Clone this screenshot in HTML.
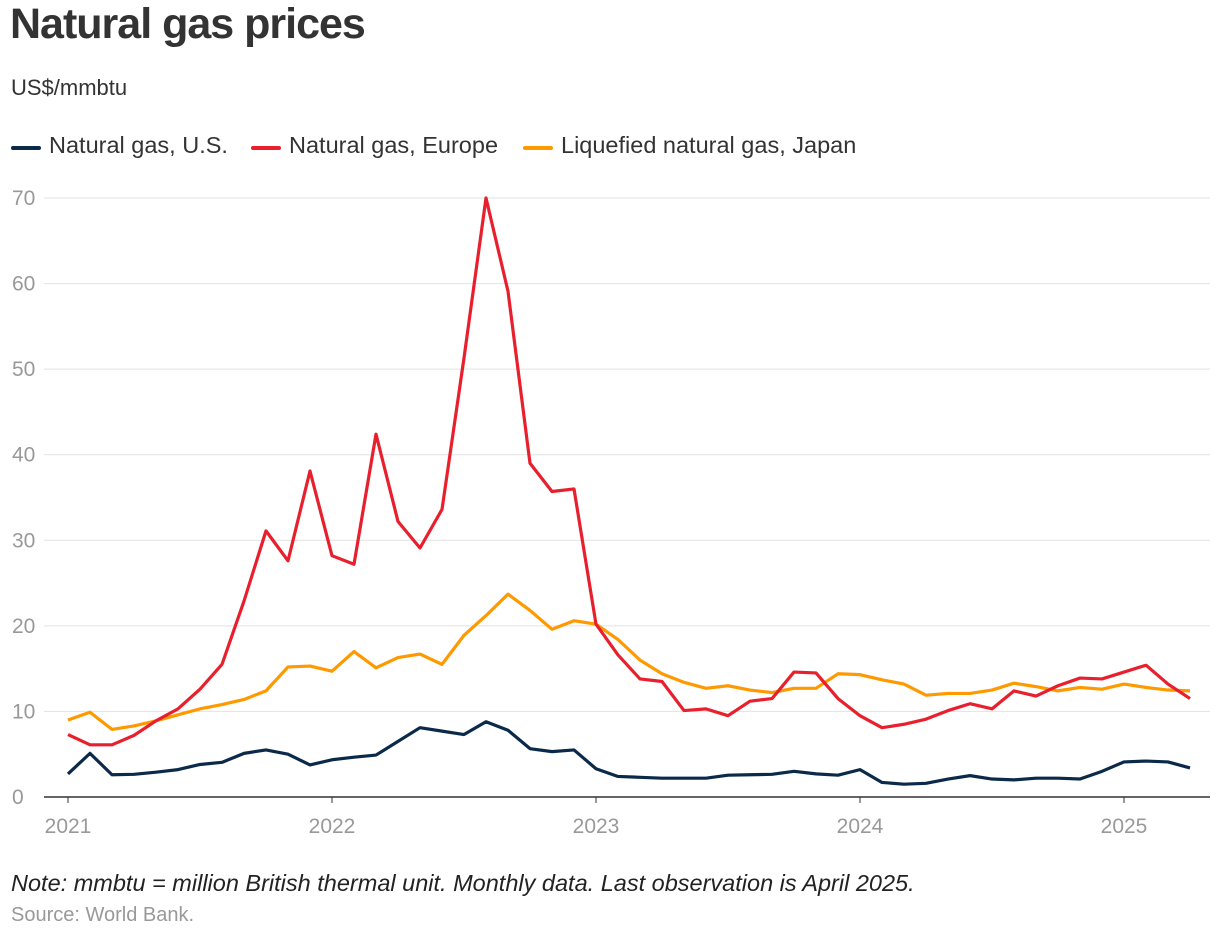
<!DOCTYPE html>
<html><head><meta charset="utf-8">
<style>
body{margin:0;background:#fff;width:1220px;height:940px;overflow:hidden;font-family:"Liberation Sans",Arial,sans-serif;}
#title{position:absolute;left:10px;top:0px;font-size:43px;font-weight:bold;color:#333;letter-spacing:-1px;margin:0}
#sub{position:absolute;left:11px;top:75px;font-size:22px;color:#333}
.leg{position:absolute;top:132px;font-size:23.5px;color:#333;white-space:nowrap}
.sw{position:absolute;top:146px;width:30px;height:4px;border-radius:2px}
#note{position:absolute;left:11px;top:870px;font-size:23.5px;font-style:italic;color:#222;white-space:nowrap}
#src{position:absolute;left:11px;top:904px;font-size:20px;color:#999}
svg{position:absolute;left:0;top:0}
</style></head><body>
<h1 id="title">Natural gas prices</h1>
<div id="sub">US$/mmbtu</div>
<span class="sw" style="left:11px;background:#0b2a4a"></span>
<div class="leg" style="left:49px">Natural gas, U.S.</div>
<span class="sw" style="left:251px;background:#e8202e"></span>
<div class="leg" style="left:289px">Natural gas, Europe</div>
<span class="sw" style="left:523px;background:#ff9900"></span>
<div class="leg" style="left:561px">Liquefied natural gas, Japan</div>
<svg id="chart" width="1220" height="940"></svg>
<div id="note">Note: mmbtu = million British thermal unit. Monthly data. Last observation is April 2025.</div>
<div id="src">Source: World Bank.</div>
<script>
const yTicks=[0,10,20,30,40,50,60,70];
const xLabels=["2021","2022","2023","2024","2025"];
const usValues=[2.7,5.1,2.6,2.65,2.9,3.2,3.8,4.05,5.1,5.5,5.0,3.75,
4.35,4.65,4.9,6.5,8.1,7.7,7.3,8.8,7.8,5.65,5.3,5.5,
3.3,2.4,2.3,2.2,2.2,2.2,2.55,2.6,2.65,3.0,2.7,2.55,
3.2,1.7,1.5,1.6,2.1,2.5,2.1,2.0,2.2,2.2,2.1,3.0,
4.1,4.2,4.1,3.4];
const europeValues=[7.3,6.1,6.1,7.2,8.9,10.3,12.6,15.5,22.9,31.1,27.6,38.1,
28.2,27.2,42.4,32.2,29.1,33.6,51.3,70.0,59.1,39.0,35.7,36.0,
20.2,16.6,13.8,13.5,10.1,10.3,9.5,11.2,11.5,14.6,14.5,11.5,
9.5,8.1,8.5,9.1,10.1,10.9,10.3,12.4,11.8,13.0,13.9,13.8,
14.6,15.4,13.2,11.5];
const japanValues=[9.0,9.9,7.9,8.3,8.9,9.6,10.3,10.8,11.4,12.4,15.2,15.3,
14.7,17.0,15.1,16.3,16.7,15.5,18.9,21.2,23.7,21.8,19.6,20.6,
20.2,18.4,16.0,14.4,13.4,12.7,13.0,12.5,12.2,12.7,12.7,14.4,
14.3,13.7,13.2,11.9,12.1,12.1,12.5,13.3,12.9,12.4,12.8,12.6,
13.2,12.8,12.5,12.4];
const NS="http://www.w3.org/2000/svg";
const svg=document.getElementById('chart');
const x0=68,dx=22.0,y0=797,yPer=599/70;
const X=i=>x0+i*dx, Y=v=>y0-v*yPer;
function mk(t,a){const e=document.createElementNS(NS,t);for(const k in a)e.setAttribute(k,a[k]);svg.appendChild(e);return e;}
yTicks.forEach(t=>{
  if(t>0){const g=mk('line',{x1:44,x2:1210,y1:Y(t),y2:Y(t),stroke:'#e2e2e2','stroke-width':1});
  
  }
  const tx=mk('text',{x:12,y:Y(t)+7,'font-size':21,fill:'#999','font-family':'Liberation Sans, sans-serif'});
  tx.textContent=t;
  
  
});
const ax=mk('line',{x1:44,x2:1210,y1:y0,y2:y0,stroke:'#333','stroke-width':1.5});


xLabels.forEach((l,i)=>{
  const tk=mk('line',{x1:X(i*12),x2:X(i*12),y1:y0,y2:y0+6,stroke:'#333','stroke-width':1});
  
  
  const tx=mk('text',{x:X(i*12),y:833,'font-size':21,fill:'#999','text-anchor':'middle','font-family':'Liberation Sans, sans-serif'});
  tx.textContent=l;
  
  
});
[[japanValues,'#ff9900','japan'],[usValues,'#0b2a4a','us'],[europeValues,'#e8202e','europe']].forEach(([d,c,n])=>{
  const p=mk('polyline',{points:d.map((v,i)=>X(i)+','+Y(v)).join(' '),fill:'none',stroke:c,'stroke-width':3.2,'stroke-linejoin':'round'});
  
  
});
</script>
</body></html>
